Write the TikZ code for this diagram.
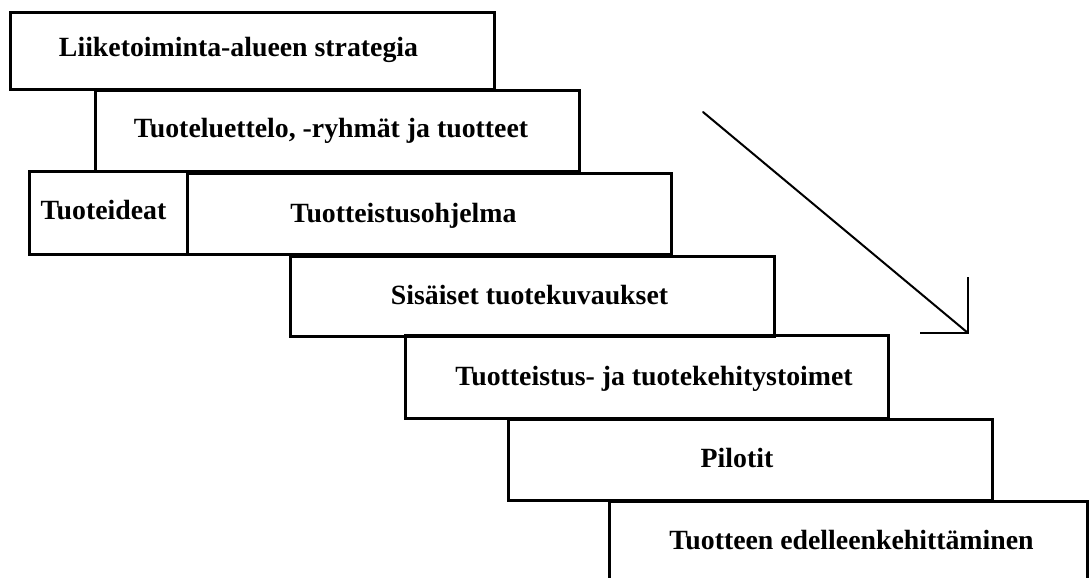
\documentclass[tikz,border=0pt]{standalone}
\usepackage{fontspec}
\setmainfont{Liberation Serif}
\begin{document}
\begin{tikzpicture}[x=1pt,y=-1pt,
  stage/.style={draw=black, line width=2.6pt, fill=none, inner sep=0pt,
    minimum width=484pt, minimum height=#1, anchor=north west},
  stage/.default=80pt,
  lbl/.style={anchor=base, inner sep=0pt,
    font=\fontsize{27.8}{30}\selectfont\bfseries},
  flow/.style={draw=black, line width=2pt, line cap=round}]
  \fill[white] (0,0) rectangle (1090,578);
  \clip (0,0) rectangle (1090,578);

  % stair of stages
  \node[stage=77pt] (s1) at (9,11) {};
  \node[stage=81pt] (s2) at (94,89) {};
  \node[stage=83pt, minimum width=158pt] (s3a) at (28,170) {};
  \node[stage=81pt] (s3b) at (186,172) {};
  \node[stage=80pt] (s4) at (289,255) {};
  \node[stage=83pt, minimum width=483pt] (s5) at (404,334) {};
  \node[stage=81pt] (s6) at (507,418) {};
  \node[stage=110pt, minimum width=478pt] (s7) at (608,500) {};

  % stage labels
  \node[lbl] (t1) at (238.5,56.7) {Liiketoiminta-alueen strategia};
  \node[lbl] (t2) at (331,137.3) {Tuoteluettelo, -ryhmät ja tuotteet};
  \node[lbl] (t3a) at (103.5,219.3) {Tuoteideat};
  \node[lbl] (t3b) at (403.5,222.7) {Tuotteistusohjelma};
  \node[lbl] (t4) at (529.5,304) {Sisäiset tuotekuvaukset};
  \node[lbl] (t5) at (654,385) {Tuotteistus- ja tuotekehitystoimet};
  \node[lbl] (t6) at (737,467.3) {Pilotit};
  \node[lbl] (t7) at (851.5,549.7) {Tuotteen edelleenkehittäminen};

  % downward direction arrow with an open corner head
  \coordinate (a0) at (703,112);
  \coordinate (a1) at (968,333);
  \coordinate (h1) at (968,277);
  \coordinate (h2) at (920,333);
  \draw[flow] (a0) -- (a1);
  \draw[flow, line width=2.6pt, line join=miter, line cap=butt] (h1) -- (a1) -- (h2);
\end{tikzpicture}
\end{document}
